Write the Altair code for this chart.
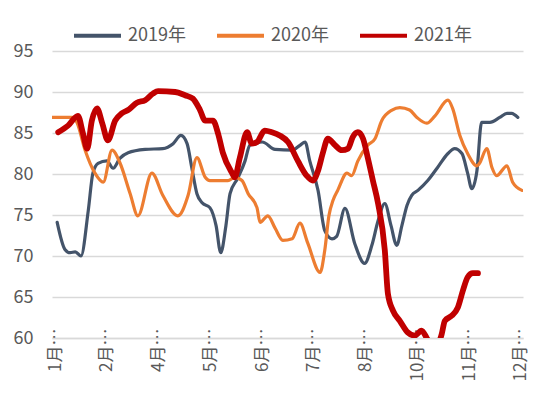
import altair as alt
import pandas as pd

# category labels (x position 0..9)
tick_labels = ["1月…", "2月…", "4月…", "5月…", "6月…", "7月…", "8月…", "10月…", "11月…", "12月…"]
series_names = ["2019年", "2020年", "2021年"]
series_colors = ["#44546A", "#ED7D31", "#C00000"]

x19 = [0.04, 0.19, 0.29, 0.39, 0.50, 0.64, 0.73, 0.83, 1.00, 1.12, 1.25, 1.41, 1.74, 2.08, 2.28, 2.43, 2.55,
       2.64, 2.74, 2.84, 2.99, 3.11, 3.20, 3.30, 3.38, 3.53, 3.67, 3.76, 3.86, 4.00, 4.25, 4.58, 4.73, 4.83,
       4.92, 5.08, 5.21, 5.35, 5.44, 5.60, 5.79, 5.98, 6.12, 6.24, 6.37, 6.49, 6.60, 6.70, 6.80, 6.89, 7.01,
       7.20, 7.39, 7.59, 7.72, 7.86, 7.97, 8.05, 8.15, 8.24, 8.40, 8.59, 8.73, 8.82, 8.94]
y19 = [74.1, 70.8, 70.4, 70.5, 70.0, 75.5, 80.1, 81.3, 81.6, 80.7, 81.9, 82.6, 83.0, 83.1, 83.7, 84.7, 83.7,
       80.8, 77.6, 76.5, 75.9, 73.7, 70.4, 73.7, 77.6, 79.5, 81.6, 83.5, 83.7, 83.9, 83.0, 82.9, 83.5, 83.9,
       81.6, 78.0, 73.1, 72.1, 72.4, 75.8, 71.5, 69.1, 71.3, 74.3, 76.4, 73.7, 71.3, 73.7, 76.2, 77.4, 78.0,
       79.2, 80.8, 82.5, 83.1, 82.5, 80.1, 78.2, 80.4, 86.3, 86.3, 86.9, 87.4, 87.4, 86.9]

x20 = [-0.06, 0.33, 0.42, 0.58, 0.77, 0.93, 1.10, 1.25, 1.45, 1.60, 1.87, 2.08, 2.37, 2.57, 2.74, 2.90, 2.99,
       3.34, 3.47, 3.61, 3.73, 3.90, 3.96, 4.11, 4.25, 4.40, 4.58, 4.73, 4.88, 5.12, 5.21, 5.29, 5.37, 5.46,
       5.64, 5.73, 5.85, 6.04, 6.18, 6.31, 6.51, 6.66, 6.85, 6.99, 7.18, 7.34, 7.59, 7.68, 7.82, 7.97, 8.15,
       8.20, 8.34, 8.44, 8.53, 8.73, 8.84, 9.02]
y20 = [86.9, 86.9, 86.3, 82.9, 80.1, 79.0, 82.9, 81.4, 77.6, 74.9, 80.1, 77.4, 74.9, 77.4, 82.0, 79.6, 79.2,
       79.2, 79.6, 79.2, 77.6, 75.9, 74.1, 74.9, 73.4, 71.9, 72.1, 74.0, 71.6, 68.0, 70.7, 74.9, 76.8, 78.0,
       80.1, 79.8, 81.6, 83.5, 84.3, 86.5, 87.8, 88.1, 87.8, 86.9, 86.2, 87.1, 89.0, 88.0, 84.7, 82.5, 81.0,
       81.3, 83.1, 80.8, 79.8, 81.0, 79.0, 78.0]

x21 = [0.06, 0.25, 0.44, 0.54, 0.62, 0.71, 0.81, 0.91, 1.02, 1.16, 1.29, 1.41, 1.58, 1.74, 1.89, 1.99, 2.32,
       2.51, 2.66, 2.80, 2.90, 3.05, 3.15, 3.24, 3.42, 3.47, 3.57, 3.71, 3.80, 3.90, 4.05, 4.19, 4.34, 4.50,
       4.69, 4.86, 4.98, 5.08, 5.17, 5.27, 5.41, 5.54, 5.66, 5.75, 5.85, 5.95, 6.04, 6.14, 6.24, 6.37, 6.43,
       6.53, 6.66, 6.81, 6.95, 7.08, 7.18, 7.32, 7.47, 7.53, 7.66, 7.78, 7.88, 7.97, 8.07, 8.17]
y21 = [85.1, 85.9, 87.1, 84.9, 83.1, 86.5, 88.0, 86.2, 84.1, 86.5, 87.4, 87.8, 88.7, 89.0, 89.8, 90.1, 90.0,
       89.6, 89.2, 87.8, 86.5, 86.5, 84.9, 82.6, 80.1, 79.6, 82.0, 85.1, 83.7, 83.9, 85.3, 85.1, 84.7, 83.9,
       81.6, 79.8, 79.2, 80.4, 82.5, 84.3, 83.5, 82.9, 83.1, 84.5, 85.1, 84.3, 82.0, 79.2, 76.4, 70.7, 65.4,
       63.3, 62.1, 60.7, 60.3, 60.9, 60.0, 58.5, 60.5, 62.1, 62.7, 63.7, 65.8, 67.4, 67.9, 67.9]

frames = []
for name, xs, ys in zip(series_names, [x19, x20, x21], [y19, y20, y21]):
    frames.append(pd.DataFrame({"year": name, "x": xs, "value": ys}))
df = pd.concat(frames, ignore_index=True)

label_js = "[" + ",".join("'" + t + "'" for t in tick_labels) + "]"
FONT = "Noto Sans CJK SC"
GREY = "#595959"
THICK = series_names[2]

chart = alt.Chart(df).mark_line(interpolate="monotone", clip=True, strokeCap="round", strokeJoin="round").encode(
    x=alt.X("x:Q", scale=alt.Scale(domain=[-0.06, 9.04], nice=False, zero=False),
            axis=alt.Axis(values=list(range(len(tick_labels))), labelExpr=label_js + "[datum.value]",
                          title=None, grid=False, ticks=False, domain=True, domainColor="#d9d9d9",
                          domainWidth=1.5, labelAngle=270, labelAlign="right", labelBaseline="middle",
                          labelPadding=-10, labelFontSize=17, labelColor=GREY, labelFont=FONT,
                          labelOverlap=False, labelBound=False, labelFlush=False)),
    y=alt.Y("value:Q", scale=alt.Scale(domain=[60, 95], nice=False, zero=False),
            axis=alt.Axis(values=[60, 65, 70, 75, 80, 85, 90, 95], title=None, grid=True,
                          gridColor="#d9d9d9", gridWidth=1.5, ticks=False, domain=False,
                          labelPadding=19, labelFontSize=18, labelColor=GREY, labelFont=FONT)),
    color=alt.Color("year:N", scale=alt.Scale(domain=series_names, range=series_colors),
                    legend=alt.Legend(title=None, orient="none", direction="horizontal",
                                      legendX=20, legendY=-41, symbolType="stroke",
                                      symbolSize=2209, symbolStrokeWidth=4, labelFontSize=18,
                                      labelColor=GREY, labelFont=FONT, columnPadding=23,
                                      labelOffset=5)),
    strokeWidth=alt.condition(alt.datum.year == THICK, alt.value(5.8), alt.value(3.2)),
).properties(
    width=471, height=287,
    autosize=alt.AutoSizeParams(type="none"),
    padding={"left": 44, "top": 43, "right": 19, "bottom": 50},
).configure_view(stroke=None)

chart.save("out.html", embed_options={"renderer": "svg", "actions": False})
